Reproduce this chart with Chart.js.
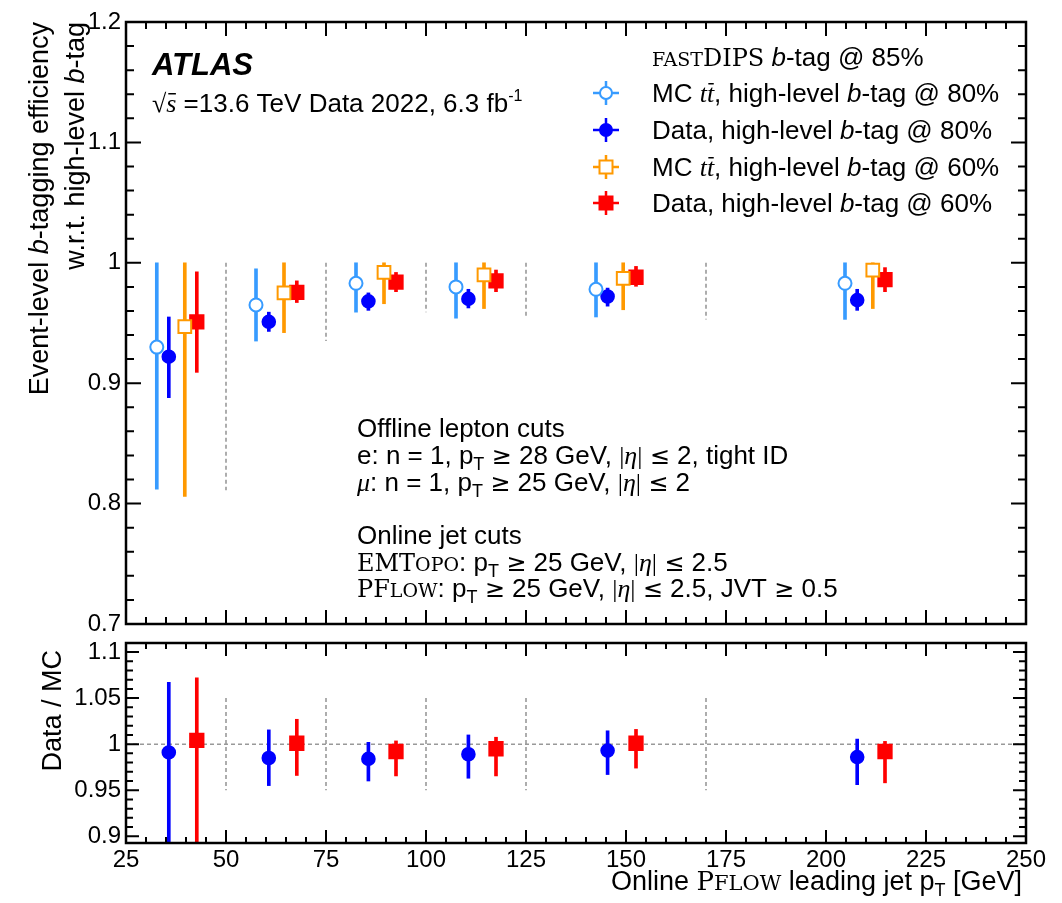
<!DOCTYPE html>
<html>
<head>
<meta charset="utf-8">
<script src="https://cdn.jsdelivr.net/npm/chart.js@4.4.1/dist/chart.umd.min.js"></script>
<style>
  html, body { margin: 0; padding: 0; background: #fff; }
  #wrap { position: relative; width: 1062px; height: 903px; }
  canvas { position: absolute; left: 0; }
  #topChart { top: 0; }
  #botChart { top: 600px; }
</style>
</head>
<body>
<div id="wrap">
  <canvas id="topChart" width="1062" height="670"></canvas>
  <canvas id="botChart" width="1062" height="303"></canvas>
</div>
<script>
// x positions of the markers (GeV), one per bin
const xMC80   = [32.7, 57.5, 82.5, 107.5, 142.5, 204.75];
const xData80 = [35.7, 60.7, 85.6, 110.6, 145.4, 207.8];
const xMC60   = [39.7, 64.5, 89.5, 114.5, 149.3, 211.7];
const xData60 = [42.7, 67.7, 92.5, 117.5, 152.5, 214.75];

// efficiencies + error bar ends
const mc80     = [0.930, 0.965, 0.983, 0.980, 0.978, 0.983];
const mc80Lo   = [0.812, 0.935, 0.959, 0.954, 0.955, 0.953];
const mc80Hi   = [1.000, 0.995, 1.000, 1.000, 1.000, 1.000];
const data80   = [0.922, 0.951, 0.968, 0.970, 0.972, 0.969];
const data80Lo = [0.888, 0.943, 0.9605, 0.9625, 0.964, 0.9605];
const data80Hi = [0.955, 0.959, 0.975, 0.978, 0.979, 0.978];
const mc60     = [0.947, 0.975, 0.992, 0.990, 0.987, 0.994];
const mc60Lo   = [0.806, 0.942, 0.966, 0.962, 0.961, 0.962];
const mc60Hi   = [1.000, 1.000, 1.000, 1.000, 1.000, 1.000];
const data60   = [0.951, 0.9755, 0.984, 0.985, 0.988, 0.986];
const data60Lo = [0.909, 0.967, 0.976, 0.976, 0.9805, 0.976];
const data60Hi = [0.9925, 0.985, 0.992, 0.994, 0.997, 0.996];

// Data / MC ratio
const ratio80   = [0.991, 0.985, 0.984, 0.989, 0.993, 0.986];
const ratio80Lo = [0.850, 0.955, 0.960, 0.963, 0.967, 0.956];
const ratio80Hi = [1.067, 1.0155, 1.002, 1.010, 1.0145, 1.0055];
const ratio60   = [1.004, 1.001, 0.992, 0.995, 1.001, 0.992];
const ratio60Lo = [0.850, 0.966, 0.9655, 0.9655, 0.974, 0.958];
const ratio60Hi = [1.072, 1.027, 1.0035, 1.0075, 1.016, 1.003];

// bin boundaries (dashed lines)
const binEdges    = [50, 75, 100, 125, 170];
const edgeTopHi   = [1.0, 1.0, 1.0, 1.0, 1.0];
const edgeTopLo   = [0.811, 0.935, 0.959, 0.954, 0.953];
const edgeRatioHi = [1.05, 1.05, 1.05, 1.05, 1.05];
const edgeRatioLo = [0.95, 0.95, 0.95, 0.95, 0.95];

// tick labels
const xTicks       = [25, 50, 75, 100, 125, 150, 175, 200, 225, 250];
const yTicksTop    = [0.7, 0.8, 0.9, 1, 1.1, 1.2];
const yTicksBottom = [0.9, 0.95, 1, 1.05, 1.1];

const C_MC80 = 'rgb(55,155,255)';
const C_D80 = '#0000ff';
const C_MC60 = 'rgb(255,153,0)';
const C_D60 = '#ff0000';
const GREY = '#999999';

const SANS = '"Liberation Sans", Arial, sans-serif';
const SERIF = '"Liberation Serif", "Times New Roman", serif';
const WSERIF = '"DejaVu Serif", serif';
const MATH = '"DejaVu Sans", sans-serif';

// ---- text helpers ----
const S  = (t, s = 26) => ({ t, f: s + 'px ' + SANS });
const I  = (t, s = 26) => ({ t, f: 'italic ' + s + 'px ' + SANS });
const R  = (t, s = 26) => ({ t, f: s + 'px ' + SERIF });
const RI = (t, s = 26) => ({ t, f: 'italic ' + s + 'px ' + SERIF });
const SC = (t, s) => ({ t, f: s + 'px ' + WSERIF });   // small caps pieces
const M  = (t) => ({ t, f: '24px ' + MATH });          // relation signs
const SUB = (t) => ({ t, f: '18px ' + SANS, dy: 6 });
const SUP = (t) => ({ t, f: '16px ' + SANS, dy: -11 });

function rich(ctx, x, y, parts, align) {
  let w = 0;
  parts.forEach(p => { ctx.font = p.f; p.w = ctx.measureText(p.t).width; w += p.w; });
  let cx = align === 'right' ? x - w : x;
  ctx.textAlign = 'left';
  ctx.textBaseline = 'alphabetic';
  ctx.fillStyle = '#000';
  parts.forEach(p => {
    ctx.font = p.f;
    ctx.fillText(p.t, cx, y + (p.dy || 0));
    if (p.bar) ctx.fillRect(cx + p.w * 0.2, y - p.bar, p.w * 0.75, 1.5);
    cx += p.w;
  });
}

function errBars(xs, lo, hi, color) {
  return {
    type: 'bar',
    data: xs.map((x, i) => ({ x: x, y: [lo[i], hi[i]] })),
    backgroundColor: color,
    grouped: false,
    maxBarThickness: 3,
    barPercentage: 1,
    categoryPercentage: 1,
    order: 5
  };
}

function markers(xs, ys, style, color, fill, radius) {
  return {
    type: 'scatter',
    data: xs.map((x, i) => ({ x: x, y: ys[i] })),
    pointStyle: style,
    pointRadius: radius,
    pointBackgroundColor: fill,
    pointBorderColor: color,
    pointBorderWidth: 2,
    order: 1
  };
}

function dashed(xs, lo, hi) {
  let pts = [];
  xs.forEach((x, i) => { pts.push({ x: x, y: hi[i] }, { x: x, y: lo[i] }, { x: x, y: null }); });
  return {
    type: 'line',
    data: pts,
    borderColor: GREY,
    borderWidth: 1.6,
    borderDash: [4, 3],
    pointRadius: 0,
    spanGaps: false,
    order: 8
  };
}

// frame + inward ticks like ROOT
const framePlugin = {
  id: 'frame',
  afterDraw(chart, args, o) {
    const ctx = chart.ctx, a = chart.chartArea;
    const xs = chart.scales.x, ys = chart.scales.y;
    ctx.save();
    ctx.strokeStyle = '#000';
    ctx.lineWidth = 2;
    ctx.beginPath();
    // x ticks
    for (let k = 0; k <= Math.round((250 - 25) / 5); k++) {
      const v = 25 + k * 5;
      const px = xs.getPixelForValue(v);
      const len = (v % 25 === 0) ? o.xMajor : o.xMinor;
      ctx.moveTo(px, a.bottom); ctx.lineTo(px, a.bottom - len);
      ctx.moveTo(px, a.top); ctx.lineTo(px, a.top + len);
    }
    // y ticks
    const n0 = Math.ceil(ys.min / o.yMinorStep - 1e-6), n1 = Math.floor(ys.max / o.yMinorStep + 1e-6);
    for (let k = n0; k <= n1; k++) {
      const v = k * o.yMinorStep;
      const major = o.yMajorTicks.some(t => Math.abs(t - v) < 1e-6);
      const len = major ? o.yMajor : o.yMinor;
      const py = ys.getPixelForValue(v);
      ctx.moveTo(a.left, py); ctx.lineTo(a.left + len, py);
      ctx.moveTo(a.right, py); ctx.lineTo(a.right - len, py);
    }
    ctx.stroke();
    ctx.lineWidth = 2.5;
    ctx.strokeRect(a.left, a.top, a.right - a.left, a.bottom - a.top);
    ctx.restore();
  }
};

function legendMarker(ctx, x, y, kind, color) {
  ctx.save();
  ctx.strokeStyle = color;
  ctx.lineWidth = 2.5;
  ctx.beginPath();
  ctx.moveTo(x - 13, y); ctx.lineTo(x + 13, y);
  ctx.moveTo(x, y - 12); ctx.lineTo(x, y + 12);
  ctx.stroke();
  ctx.lineWidth = 2;
  if (kind === 'oc' || kind === 'fc') {
    ctx.beginPath(); ctx.arc(x, y, 6, 0, Math.PI * 2);
    ctx.fillStyle = kind === 'oc' ? '#fff' : color;
    ctx.fill(); ctx.stroke();
  } else {
    ctx.fillStyle = kind === 'os' ? '#fff' : color;
    ctx.fillRect(x - 6.5, y - 6.5, 13, 13);
    ctx.strokeRect(x - 6.5, y - 6.5, 13, 13);
  }
  ctx.restore();
}

const eta = () => [R('|'), RI('\u03B7'), R('|')];
const GEQ = () => [S(' '), M('\u2265'), S(' ')];
const LEQ = () => [S(' '), M('\u2264'), S(' ')];

const topText = {
  id: 'topText',
  afterDraw(chart) {
    const ctx = chart.ctx;
    ctx.save();
    // y title (rotated, aligned to top)
    ctx.save(); ctx.translate(48, 22); ctx.rotate(-Math.PI / 2);
    rich(ctx, 0, 0, [S('Event-level ', 27), I('b', 27), S('-tagging efficiency', 27)], 'right');
    ctx.restore();
    ctx.save(); ctx.translate(84, 22); ctx.rotate(-Math.PI / 2);
    rich(ctx, 0, 0, [S('w.r.t. high-level ', 27), I('b', 27), S('-tag', 27)], 'right');
    ctx.restore();

    // ATLAS label
    rich(ctx, 152, 75, [{ t: 'ATLAS', f: 'italic bold 31px ' + SANS }]);
    rich(ctx, 152, 112, [R('\u221A', 26), Object.assign(RI('s', 26), { bar: 19 }), S(' =13.6 TeV Data 2022, 6.3 fb', 26), SUP('-1')]);

    // legend
    const lx = 652, mx = 606;
    rich(ctx, lx, 66, [SC('FAST', 19), SC('DIPS', 24), S(' '), I('b'), S('-tag @ 85%')]);
    const ttbar = () => [S('MC '), RI('t'), Object.assign(RI('t'), { bar: 19 })];
    rich(ctx, lx, 102, ttbar().concat([S(', high-level '), I('b'), S('-tag @ 80%')]));
    rich(ctx, lx, 139, [S('Data, high-level '), I('b'), S('-tag @ 80%')]);
    rich(ctx, lx, 176, ttbar().concat([S(', high-level '), I('b'), S('-tag @ 60%')]));
    rich(ctx, lx, 212, [S('Data, high-level '), I('b'), S('-tag @ 60%')]);
    legendMarker(ctx, mx, 93, 'oc', C_MC80);
    legendMarker(ctx, mx, 130, 'fc', C_D80);
    legendMarker(ctx, mx, 167, 'os', C_MC60);
    legendMarker(ctx, mx, 203, 'fs', C_D60);

    // selection text
    const tx = 357;
    rich(ctx, tx, 437, [S('Offline lepton cuts')]);
    rich(ctx, tx, 464, [S('e: n = 1, p'), SUB('T')].concat(GEQ(), [S('28 GeV, ')], eta(), LEQ(), [S('2, tight ID')]));
    rich(ctx, tx, 491, [RI('\u03BC'), S(': n = 1, p'), SUB('T')].concat(GEQ(), [S('25 GeV, ')], eta(), LEQ(), [S('2')]));
    rich(ctx, tx, 544, [S('Online jet cuts')]);
    rich(ctx, tx, 571, [SC('EMT', 24), SC('OPO', 19), S(': p'), SUB('T')].concat(GEQ(), [S('25 GeV, ')], eta(), LEQ(), [S('2.5')]));
    rich(ctx, tx, 597, [SC('PF', 24), SC('LOW', 19), S(': p'), SUB('T')].concat(GEQ(), [S('25 GeV, ')], eta(), LEQ(), [S('2.5, JVT')], GEQ(), [S('0.5')]));
    ctx.restore();
  }
};

const botText = {
  id: 'botText',
  afterDraw(chart) {
    const ctx = chart.ctx;
    ctx.save();
    ctx.translate(61, 50); ctx.rotate(-Math.PI / 2);
    rich(ctx, 0, 0, [S('Data / MC', 27)], 'right');
    ctx.restore();
    rich(ctx, 1022, 290, [S('Online ', 27), SC('P', 26), SC('FLOW', 21), S(' leading jet p', 27), SUB('T'), S(' [GeV]', 27)], 'right');
  }
};

const fmt = v => String(+Number(v).toFixed(2));
const tickFont = { family: SANS, size: 24 };

const topChart = new Chart(document.getElementById('topChart'), {
  type: 'scatter',
  data: {
    datasets: [
      dashed(binEdges, edgeTopLo, edgeTopHi),
      errBars(xMC80, mc80Lo, mc80Hi, C_MC80),
      errBars(xData80, data80Lo, data80Hi, C_D80),
      errBars(xMC60, mc60Lo, mc60Hi, C_MC60),
      errBars(xData60, data60Lo, data60Hi, C_D60),
      markers(xMC80, mc80, 'circle', C_MC80, '#fff', 6.5),
      markers(xData80, data80, 'circle', C_D80, C_D80, 6.3),
      markers(xMC60, mc60, 'rect', C_MC60, '#fff', 9),
      markers(xData60, data60, 'rect', C_D60, C_D60, 9.4)
    ]
  },
  options: {
    responsive: false,
    animation: false,
    events: [],
    layout: { padding: { top: 22, right: 36, bottom: 46, left: 0 } },
    plugins: {
      legend: { display: false },
      tooltip: { enabled: false },
      frame: { xMajor: 14, xMinor: 7, yMajor: 15, yMinor: 8, yMinorStep: 0.02, yMajorTicks: yTicksTop }
    },
    scales: {
      x: { type: 'linear', min: 25, max: 250, display: false, offset: false },
      y: {
        type: 'linear', min: 0.7, max: 1.2,
        afterFit(s) { s.width = 126; },
        afterBuildTicks(s) { s.ticks = yTicksTop.map(v => ({ value: v })); },
        grid: { display: false, drawTicks: false },
        border: { display: false },
        ticks: { font: tickFont, color: '#000', padding: 5, callback: fmt }
      }
    }
  },
  plugins: [framePlugin, topText]
});

const botChart = new Chart(document.getElementById('botChart'), {
  type: 'scatter',
  data: {
    datasets: [
      dashed(binEdges, edgeRatioLo, edgeRatioHi),
      {
        type: 'line',
        data: [{ x: 25, y: 1 }, { x: 250, y: 1 }],
        borderColor: GREY, borderWidth: 1.5, borderDash: [4, 3], pointRadius: 0, order: 8
      },
      errBars(xData80, ratio80Lo, ratio80Hi, C_D80),
      errBars(xData60, ratio60Lo, ratio60Hi, C_D60),
      markers(xData80, ratio80, 'circle', C_D80, C_D80, 6.3),
      markers(xData60, ratio60, 'rect', C_D60, C_D60, 9.4)
    ]
  },
  options: {
    responsive: false,
    animation: false,
    events: [],
    layout: { padding: { top: 43, right: 36, bottom: 0, left: 0 } },
    plugins: {
      legend: { display: false },
      tooltip: { enabled: false },
      frame: { xMajor: 13, xMinor: 6, yMajor: 13, yMinor: 7, yMinorStep: 0.01, yMajorTicks: yTicksBottom }
    },
    scales: {
      x: {
        type: 'linear', min: 25, max: 250, offset: false,
        afterFit(s) { s.height = 60; },
        afterBuildTicks(s) { s.ticks = xTicks.map(v => ({ value: v })); },
        grid: { display: false, drawTicks: false },
        border: { display: false },
        ticks: { font: tickFont, color: '#000', padding: 3, maxRotation: 0, autoSkip: false, callback: fmt }
      },
      y: {
        type: 'linear', min: 0.8927, max: 1.1098,
        afterFit(s) { s.width = 126; },
        afterBuildTicks(s) { s.ticks = yTicksBottom.map(v => ({ value: v })); },
        grid: { display: false, drawTicks: false },
        border: { display: false },
        ticks: { font: tickFont, color: '#000', padding: 5, callback: fmt }
      }
    }
  },
  plugins: [framePlugin, botText]
});
</script>
</body>
</html>
